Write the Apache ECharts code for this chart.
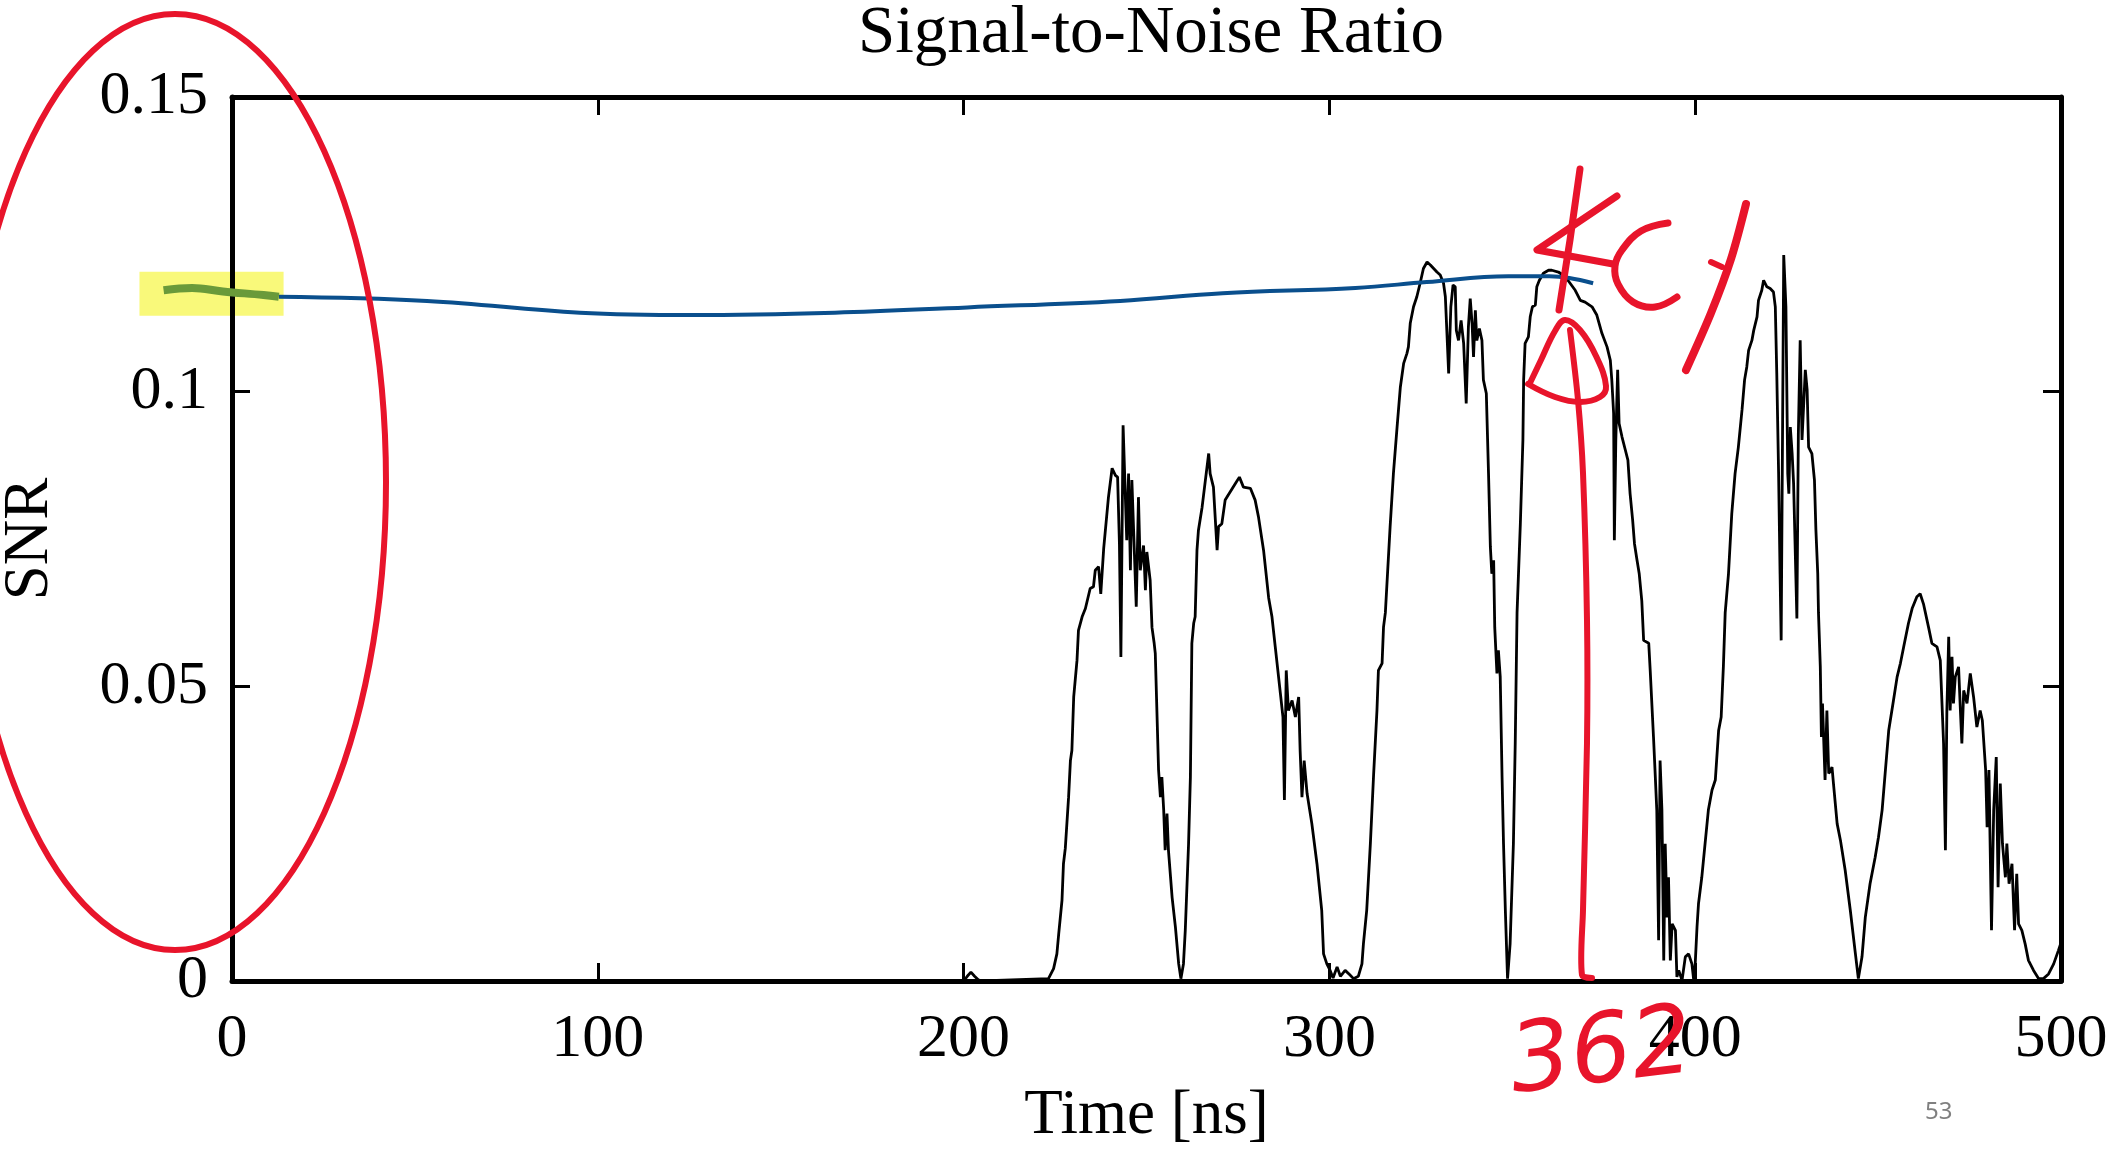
<!DOCTYPE html>
<html><head><meta charset="utf-8">
<script src="https://cdn.jsdelivr.net/npm/echarts/dist/echarts.min.js"></script>
<style>html,body{margin:0;padding:0;background:#fff}#c{width:2112px;height:1151px}</style>
</head><body><div id="c"></div>
<script>
// ---- data ----
const chartTitle = 'Signal-to-Noise Ratio';
const xName = 'Time [ns]';
const yName = 'SNR';
const xRange = [0, 500, 100];
const yRange = [0, 0.15, 0.05];

// black SNR trace (time in ns, SNR)
const snrTime = [0,200,201,202,203,204,205,223.2,224.6,225.5,226.0,226.9,227.3,227.8,228.7,229.2,229.6,230.1,231.0,231.4,232.4,233.3,234.6,235.5,236.0,236.9,237.5,238.3,239.6,240.6,241.5,242.1,242.6,243.0,243.6,244.6,245.1,245.6,246.0,247.2,247.8,248.3,249.2,249.7,250.1,251.0,251.5,252.1,252.4,253.3,253.8,254.2,254.7,255.1,255.6,256.0,257.0,257.9,258.8,259.4,260.1,260.6,261.5,262.0,262.4,262.9,263.3,263.8,264.2,265.2,266.1,267.0,267.4,268.3,269.3,269.7,270.6,271.5,272.9,274.3,275.4,276.5,278.4,279.7,280.6,282.0,283.4,284.3,285.2,286.6,287.3,287.7,288.2,288.8,289.8,290.7,291.6,292.0,292.5,293.1,293.9,295.2,296.6,297.9,298.4,299.3,300.2,301.0,302.1,303.0,304.3,305.5,306.6,307.9,308.9,309.3,310.2,311.2,312.1,313.0,313.4,314.4,314.8,315.3,316.6,317.5,318.5,319.4,320.3,321.2,321.6,322.1,323.0,323.9,324.8,325.7,326.7,327.6,328.5,329.4,330.3,331.2,331.7,332.1,332.6,333.2,333.8,334.4,334.7,335.3,336.0,336.7,337.4,338.0,338.5,339.0,339.4,339.9,340.3,341.0,341.7,342.1,342.9,343.5,344.0,344.4,344.9,345.2,345.8,346.2,346.7,347.2,347.6,348.1,348.7,349.4,350.3,350.8,351.3,352.2,352.9,353.1,353.5,354.4,354.9,355.5,356.3,356.7,357.4,358.5,359.9,360.8,362.6,364.5,365.8,367.2,368.6,369.9,371.8,373.1,374.5,375.9,376.8,377.2,377.7,377.9,378.3,378.8,379.2,380.0,380.9,381.6,382.2,382.9,383.4,384.1,384.7,385.4,385.9,387.3,387.7,388.6,389.1,389.5,390.0,390.4,390.9,391.4,391.8,392.3,392.7,393.2,393.7,394.6,395.0,395.5,396.4,397.3,398.2,399.1,399.6,400.0,400.5,400.9,401.8,402.7,403.6,404.6,405.5,406.4,407.1,407.7,408.2,409.1,410.0,410.9,411.8,412.8,413.5,414.1,414.6,415.5,416.0,416.9,417.3,418.2,418.7,419.6,420.5,421.4,421.9,422.3,422.8,423.2,423.5,424.2,424.8,425.3,425.6,426.0,426.5,426.9,427.8,428.2,428.7,429.2,430.1,430.6,431.0,431.9,432.6,433.0,433.5,433.7,434.2,434.5,434.8,435.5,436.0,436.5,437.4,437.8,438.8,439.7,441.0,442.4,443.8,444.6,445.6,446.5,447.8,449.2,450.1,451.1,452.0,452.9,454.2,455.2,456.1,457.0,458.3,459.3,460.6,461.5,462.4,463.8,464.7,466.1,467.0,467.9,468.4,468.8,469.3,469.7,470.2,470.6,471.1,472.0,472.5,472.9,473.4,474.3,475.2,476.1,477.0,477.9,478.5,479.4,479.8,480.3,481.0,481.6,482.3,482.8,483.4,484.0,484.8,485.2,485.8,486.6,487.3,487.9,488.4,489.3,490.2,491.1,492.5,493.9,495.2,496.6,498.0,499.3,500];
const snrValue = [0,0,0.0008,0.0015,0.0008,0.0002,0,0.0004,0.0021,0.0046,0.0080,0.0137,0.0199,0.0225,0.0312,0.0374,0.0391,0.0482,0.0544,0.0595,0.0618,0.0632,0.0666,0.0669,0.0697,0.0703,0.0657,0.0734,0.0821,0.0870,0.0858,0.0855,0.0742,0.0550,0.0943,0.0748,0.0861,0.0697,0.0850,0.0635,0.0821,0.0697,0.0739,0.0663,0.0728,0.0680,0.0600,0.0573,0.0556,0.0358,0.0312,0.0346,0.0290,0.0222,0.0284,0.0222,0.0142,0.0092,0.0029,0.0004,0.0029,0.0086,0.0233,0.0346,0.0573,0.0607,0.0618,0.0731,0.0765,0.0804,0.0850,0.0895,0.0861,0.0838,0.0731,0.0771,0.0776,0.0816,0.0830,0.0844,0.0855,0.0838,0.0836,0.0816,0.0788,0.0731,0.0650,0.0618,0.0567,0.0488,0.0448,0.0307,0.0527,0.0459,0.0476,0.0448,0.0482,0.0391,0.0312,0.0374,0.0318,0.0267,0.0199,0.0120,0.0046,0.0029,0.0018,0.0005,0.0024,0.0008,0.0018,0.0011,0.0004,0.0008,0.0029,0.0063,0.0120,0.0233,0.0352,0.0459,0.0527,0.0539,0.0601,0.0625,0.0771,0.0861,0.0940,0.1008,0.1048,0.1065,0.1076,0.1116,0.1144,0.1161,0.1184,0.1209,0.1220,0.1215,0.1209,0.1203,0.1198,0.1184,0.1161,0.1104,0.1031,0.1144,0.1181,0.1178,0.1104,0.1087,0.1121,0.1082,0.0980,0.1110,0.1158,0.1116,0.1059,0.1138,0.1087,0.1107,0.1087,0.1020,0.0997,0.0861,0.0737,0.0691,0.0714,0.0600,0.0522,0.0561,0.0516,0.0346,0.0233,0.0120,0.0004,0.0063,0.0233,0.0403,0.0625,0.0776,0.0918,0.1020,0.1082,0.1093,0.1127,0.1144,0.1147,0.1178,0.1189,0.1201,0.1206,0.1206,0.1203,0.1195,0.1184,0.1172,0.1155,0.1152,0.1144,0.1130,0.1099,0.1076,0.1053,0.1020,0.0963,0.0748,0.0918,0.1037,0.0946,0.0923,0.0901,0.0884,0.0827,0.0782,0.0742,0.0714,0.0691,0.0645,0.0578,0.0573,0.0527,0.0414,0.0346,0.0290,0.0069,0.0374,0.0290,0.0035,0.0233,0.0108,0.0176,0.0035,0.0097,0.0086,0.0007,0.0018,0.0001,0.0041,0.0046,0.0029,0.0001,0.0029,0.0092,0.0131,0.0176,0.0233,0.0290,0.0324,0.0341,0.0425,0.0448,0.0533,0.0625,0.0691,0.0793,0.0861,0.0906,0.0969,0.1020,0.1042,0.1070,0.1087,0.1104,0.1127,0.1155,0.1172,0.1189,0.1178,0.1175,0.1169,0.1144,0.1031,0.0861,0.0691,0.0578,0.1232,0.1144,0.0861,0.0827,0.0940,0.0895,0.0844,0.0615,0.0929,0.1087,0.0918,0.1037,0.1003,0.0906,0.0895,0.0850,0.0765,0.0691,0.0625,0.0533,0.0414,0.0471,0.0341,0.0459,0.0352,0.0363,0.0335,0.0267,0.0239,0.0188,0.0120,0.0046,0.0004,0.0041,0.0108,0.0165,0.0210,0.0244,0.0290,0.0358,0.0425,0.0476,0.0516,0.0539,0.0567,0.0607,0.0632,0.0652,0.0657,0.0640,0.0600,0.0573,0.0567,0.0544,0.0403,0.0222,0.0459,0.0584,0.0459,0.0550,0.0471,0.0516,0.0533,0.0459,0.0403,0.0493,0.0471,0.0522,0.0482,0.0431,0.0459,0.0442,0.0358,0.0261,0.0358,0.0086,0.0290,0.0380,0.0159,0.0335,0.0233,0.0176,0.0233,0.0165,0.0199,0.0086,0.0182,0.0097,0.0086,0.0063,0.0035,0.0018,0.0004,0.0004,0.0012,0.0029,0.0052,0.0065];

// blue smooth curve
const fitTime = [12.8,53.3,95.1,125.8,164.8,201,242.8,270.8,307.1,326.6,348.9,360.1,365.6,372.1];
const fitValue = [0.1161,0.1154,0.1134,0.1130,0.1134,0.1143,0.1154,0.1167,0.1176,0.1186,0.1196,0.1196,0.1193,0.1184];

// highlighted (green) start of the blue curve, partly left of t = 0
const greenTime = [-18.7,-10.9,-2.5,8.6,12.8];
const greenValue = [0.1172,0.1176,0.1170,0.1164,0.1161];

// yellow highlighter band
const markerTime = [-25.3,14.1];
const markerValue = [0.1166,0.1166];

const pageNumber = '53';
const handNote = '362';

const zip = (a, b) => a.map((v, i) => [v, b[i]]);
const RED = '#e8142b';
const SERIF = 'Liberation Serif';

// layout
const W = 2112, GL = 232, GR = 51, GT = 97, GB = 170;
// a hidden overlay grid that reaches the page's left edge, same scale as the main one
const pxPerNs = (W - GL - GR) / (xRange[1] - xRange[0]);
const overlayMin = xRange[0] - GL / pxPerNs;

const chart = echarts.init(document.getElementById('c'), null, {renderer: 'canvas'});
const tickStyle = {show: true, inside: true, length: 18, lineStyle: {color: '#000', width: 3}};
const lineStyle = {show: true, onZero: false, lineStyle: {color: '#000', width: 5}};
const labelStyle = {fontFamily: SERIF, fontSize: 62, color: '#000'};

chart.setOption({
  animation: false,
  backgroundColor: '#fff',
  title: {
    text: chartTitle, left: 1146, top: -4, textAlign: 'center',
    textStyle: {fontFamily: SERIF, fontSize: 67, fontWeight: 'normal', color: '#000'}
  },
  grid: [
    {left: GL, right: GR, top: GT, bottom: GB, containLabel: false, outerBoundsMode: 'none'},
    {left: 0, right: GR, top: GT, bottom: GB, containLabel: false, outerBoundsMode: 'none'}
  ],
  xAxis: [
    {type: 'value', gridIndex: 0, min: xRange[0], max: xRange[1], interval: xRange[2], position: 'bottom',
     name: xName, nameLocation: 'middle', nameGap: 104,
     nameTextStyle: {fontFamily: SERIF, fontSize: 63, color: '#000'},
     axisLine: lineStyle, axisTick: tickStyle, splitLine: {show: false},
     axisLabel: Object.assign({margin: 28}, labelStyle)},
    {type: 'value', gridIndex: 0, min: xRange[0], max: xRange[1], interval: xRange[2], position: 'top',
     axisLine: lineStyle, axisTick: tickStyle, splitLine: {show: false}, axisLabel: {show: false}},
    {type: 'value', gridIndex: 1, min: overlayMin, max: xRange[1], show: false}
  ],
  yAxis: [
    {type: 'value', gridIndex: 0, min: yRange[0], max: yRange[1], interval: yRange[2], position: 'left',
     name: yName, nameLocation: 'middle', nameGap: 170,
     nameTextStyle: {fontFamily: SERIF, fontSize: 63, color: '#000'},
     axisLine: lineStyle, axisTick: tickStyle, splitLine: {show: false},
     axisLabel: Object.assign({margin: 24}, labelStyle)},
    {type: 'value', gridIndex: 0, min: yRange[0], max: yRange[1], interval: yRange[2], position: 'right',
     axisLine: lineStyle, axisTick: tickStyle, splitLine: {show: false}, axisLabel: {show: false}},
    {type: 'value', gridIndex: 1, min: yRange[0], max: yRange[1], show: false}
  ],
  series: [
    {type: 'line', name: 'marker', xAxisIndex: 2, yAxisIndex: 2, data: zip(markerTime, markerValue),
     showSymbol: false, z: -1, silent: true, lineStyle: {color: '#f9f97a', width: 44, cap: 'butt'}},
    {type: 'line', name: 'SNR', xAxisIndex: 0, yAxisIndex: 0, data: zip(snrTime, snrValue), showSymbol: false,
     lineStyle: {color: '#000', width: 2.8}, z: 3},
    {type: 'line', name: 'fit', xAxisIndex: 0, yAxisIndex: 0, data: zip(fitTime, fitValue), showSymbol: false, smooth: 0.4,
     lineStyle: {color: '#0a4f8d', width: 4}, z: 4},
    {type: 'line', name: 'fitStart', xAxisIndex: 2, yAxisIndex: 2, data: zip(greenTime, greenValue), showSymbol: false, smooth: 0.4,
     lineStyle: {color: '#6a9a3a', width: 8}, z: 4}
  ],
  graphic: [
    {type: 'text', left: 1925, top: 1100, z: 10,
     style: {text: pageNumber, font: '24px "Noto Sans"', fill: '#808080'}},
    {type: 'ellipse', z: 20, shape: {cx: 175, cy: 482, rx: 211, ry: 468},
     style: {fill: null, stroke: RED, lineWidth: 6}},
    {type: 'polyline', z: 20, shape: {points: [[1570,330],[1578,400],[1583,473],[1587,620],[1587,743],[1583,910],[1582,975],[1592,978]], smooth: 0.3},
     style: {fill: null, stroke: RED, lineWidth: 6, lineCap: 'round', lineJoin: 'round'}},
    {type: 'polyline', z: 20, shape: {points: [[1530,383],[1541,360],[1555,331],[1565,320],[1580,330],[1596,356],[1606,386],[1600,397],[1580,402],[1555,397],[1528,384]], smooth: 0.4},
     style: {fill: null, stroke: RED, lineWidth: 6, lineCap: 'round', lineJoin: 'round'}},
    {type: 'polyline', z: 20, shape: {points: [[1580,169],[1570,240],[1559,310]]},
     style: {fill: null, stroke: RED, lineWidth: 7, lineCap: 'round'}},
    {type: 'polyline', z: 20, shape: {points: [[1617,196],[1537,250],[1613,264]]},
     style: {fill: null, stroke: RED, lineWidth: 7, lineCap: 'round', lineJoin: 'round'}},
    {type: 'polyline', z: 20, shape: {points: [[1668,223],[1641,231],[1622,250],[1615,266],[1618,284],[1633,302],[1655,307],[1677,297]], smooth: 0.4},
     style: {fill: null, stroke: RED, lineWidth: 7, lineCap: 'round', lineJoin: 'round'}},
    {type: 'polyline', z: 20, shape: {points: [[1746,204],[1731,259],[1711,313],[1686,370]], smooth: 0.3},
     style: {fill: null, stroke: RED, lineWidth: 8, lineCap: 'round', lineJoin: 'round'}},
    {type: 'polyline', z: 20, shape: {points: [[1711,262],[1722,267]]},
     style: {fill: null, stroke: RED, lineWidth: 6, lineCap: 'round'}},
    {type: 'text', z: 20, left: 1505, top: 998, rotation: 0.12,
     style: {text: handNote, font: 'italic 96px "DejaVu Sans"', fill: RED}}
  ]
});
</script></body></html>
